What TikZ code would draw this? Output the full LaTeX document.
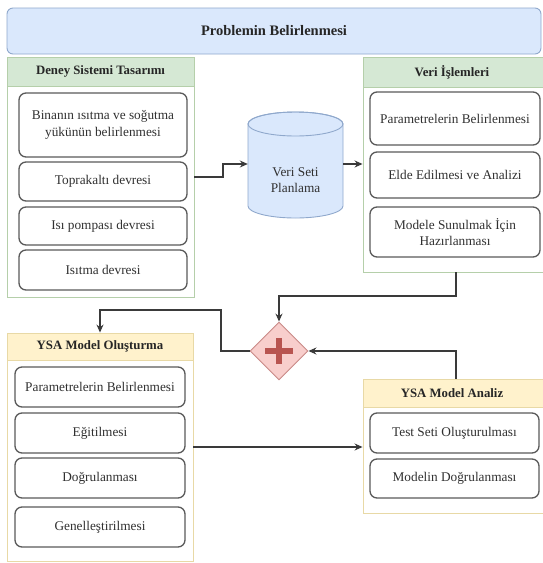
\documentclass[tikz,border=0pt]{standalone}
\usepackage{fontspec}
\setmainfont{Liberation Serif}
\usetikzlibrary{shapes.geometric,arrows.meta}
\definecolor{blueF}{HTML}{DAE8FC}
\definecolor{blueD}{HTML}{8FA8CC}
\definecolor{greenF}{HTML}{D5E8D4}
\definecolor{greenD}{HTML}{B5CFAA}
\definecolor{yelF}{HTML}{FFF2CC}
\definecolor{yelD}{HTML}{E8D9A6}
\definecolor{redF}{HTML}{F8CECC}
\definecolor{redD}{HTML}{C98A87}
\definecolor{plusC}{HTML}{B85450}
\definecolor{itemD}{HTML}{5A5A5A}
\definecolor{txtC}{HTML}{303030}
\definecolor{arrC}{HTML}{3A3A3A}
\tikzset{
  topbox/.style={draw=blueD, fill=blueF, rounded corners=6pt, line width=0.9pt,
    font=\fontsize{14.5}{17}\selectfont\bfseries, text=black!85},
  contbox/.style={draw=#1, fill=white, line width=0.9pt, inner sep=0pt},
  hdrbox/.style 2 args={draw=#2, fill=#1, line width=0.9pt, inner sep=0pt,
    font=\fontsize{12.8}{15}\selectfont\bfseries, text=black!85},
  itembox/.style={draw=itemD, fill=white, rounded corners=7pt, line width=1.3pt,
    text=txtC, font=\fontsize{13.3}{16.5}\selectfont, align=center, inner sep=0pt},
  arr/.style={draw=arrC, line width=1.3pt, -{Stealth[length=8pt,width=7pt]}},
}
\begin{document}
\begin{tikzpicture}[x=1pt,y=-1pt]
\useasboundingbox (0,0) rectangle (543,563);

% top box
\node[topbox, minimum width=534pt, minimum height=46pt] (top) at (274,31) {Problemin Belirlenmesi};

% Deney Sistemi Tasarimi
\node[contbox=greenD, minimum width=187pt, minimum height=240pt] (deney) at (100.5,177) {};
\node[hdrbox={greenF}{greenD}, minimum width=187pt, minimum height=29pt] (deneyh) at (100.5,71.5) {Deney Sistemi Tasarımı};
\node[itembox, minimum width=168pt, minimum height=64pt] (b1) at (103,125) {Binanın ısıtma ve soğutma\\yükünün belirlenmesi};
\node[itembox, minimum width=168pt, minimum height=39pt] (b2) at (103,181.5) {Toprakaltı devresi};
\node[itembox, minimum width=168pt, minimum height=38pt] (b3) at (103,226) {Isı pompası devresi};
\node[itembox, minimum width=168pt, minimum height=40pt] (b4) at (103,270) {Isıtma devresi};

% cylinder
\path[draw=blueD, fill=blueF, line width=0.9pt]
  (248,124) -- (248,206) arc[start angle=180, end angle=360, x radius=47.5pt, y radius=12pt]
  -- (343,124) arc[start angle=0, end angle=180, x radius=47.5pt, y radius=12pt] -- cycle;
\draw[draw=blueD, line width=0.9pt] (295.5,124) ellipse [x radius=47.5pt, y radius=12pt];
\node[minimum width=95pt, minimum height=106pt, inner sep=0pt] (db) at (295.5,165) {};
\node[align=center, text=txtC, inner sep=0pt, font=\fontsize{13.3}{16}\selectfont] (dbt) at (295.5,180) {Veri Seti\\Planlama};

% Veri Islemleri
\node[contbox=greenD, minimum width=182pt, minimum height=215pt] (veri) at (454,164.5) {};
\node[hdrbox={greenF}{greenD}, minimum width=182pt, minimum height=30pt] (verih) at (454,72) {\hspace*{-4pt}Veri İşlemleri};
\node[itembox, minimum width=170pt, minimum height=53pt] (c1) at (455,118.5) {Parametrelerin Belirlenmesi};
\node[itembox, minimum width=170pt, minimum height=46pt] (c2) at (455,175) {Elde Edilmesi ve Analizi};
\node[itembox, minimum width=170pt, minimum height=50pt] (c3) at (455,232) {Modele Sunulmak İçin\\Hazırlanması};

% gateway
\node[diamond, aspect=1, draw=redD, fill=redF, line width=0.9pt, minimum width=58pt, minimum height=58pt, inner sep=0pt] (gate) at (279,351) {};
\draw[plusC, line width=6pt] ([xshift=-14pt]gate.center) -- ([xshift=14pt]gate.center);
\draw[plusC, line width=6pt] ([yshift=-13pt]gate.center) -- ([yshift=13pt]gate.center);

% YSA Model Olusturma
\node[contbox=yelD, minimum width=186pt, minimum height=228pt] (olus) at (100,447) {};
\node[hdrbox={yelF}{yelD}, minimum width=186pt, minimum height=27pt] (olush) at (100,346.5) {YSA Model Oluşturma};
\node[itembox, minimum width=170pt, minimum height=40pt] (d1) at (100,387) {Parametrelerin Belirlenmesi};
\node[itembox, minimum width=170pt, minimum height=40pt] (d2) at (100,433) {Eğitilmesi};
\node[itembox, minimum width=170pt, minimum height=40pt] (d3) at (100,478) {Doğrulanması};
\node[itembox, minimum width=170pt, minimum height=40pt] (d4) at (100,527) {Genelleştirilmesi};

% YSA Model Analiz
\node[contbox=yelD, minimum width=182pt, minimum height=134pt] (anl) at (454,446) {};
\node[hdrbox={yelF}{yelD}, minimum width=182pt, minimum height=28pt] (anlh) at (454,393) {\hspace*{-4pt}YSA Model Analiz};
\node[itembox, minimum width=169pt, minimum height=40pt] (e1) at (454.5,433) {Test Seti Oluşturulması};
\node[itembox, minimum width=169pt, minimum height=39pt] (e2) at (454.5,478.5) {Modelin Doğrulanması};

% connectors
\coordinate (p1a) at (223,177);
\coordinate (p1b) at (223,164);
\draw[arr] (deney.east |- p1a) -- (p1a) -- (p1b) -- (db.west |- p1b);
\draw[arr] (db.east |- p1b) -- (veri.west |- p1b);

\coordinate (p3a) at (456,296);
\coordinate (p3b) at (279,296);
\draw[arr] (veri.south -| p3a) -- (p3a) -- (p3b) -- (gate.north);

\coordinate (p4a) at (221,310);
\coordinate (p4b) at (100,310);
\draw[arr] (gate.west) -- (gate.west -| p4a) -- (p4a) -- (p4b) -- (olush.north -| p4b);

\coordinate (p5) at (280,447);
\draw[arr] (olus.east |- p5) -- (anl.west |- p5);

\coordinate (p6) at (456,351);
\draw[arr] (anlh.north -| p6) -- (p6) -- (gate.east);
\end{tikzpicture}
\end{document}
